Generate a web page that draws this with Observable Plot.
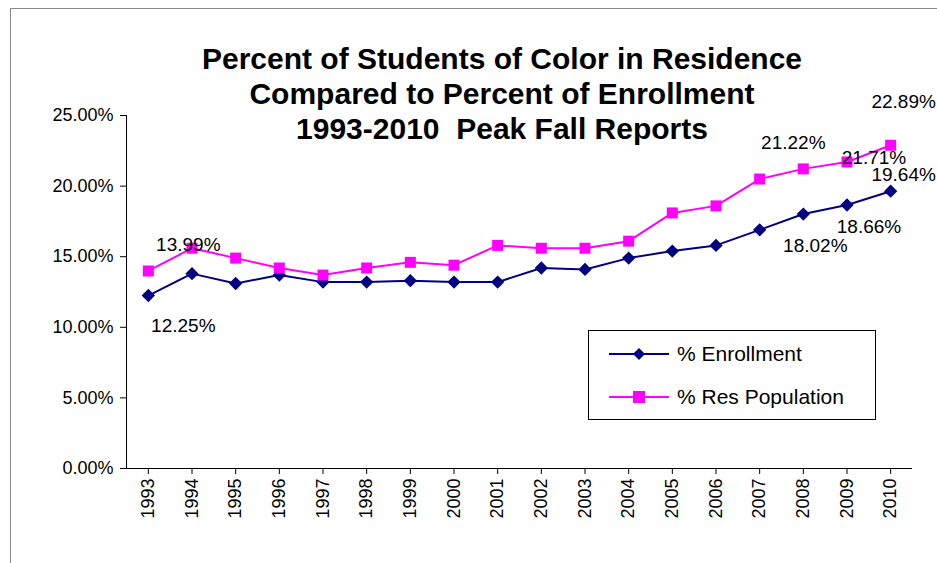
<!DOCTYPE html>
<html><head><meta charset="utf-8">
<script src="https://cdn.jsdelivr.net/npm/d3@7"></script>
<script src="https://cdn.jsdelivr.net/npm/@observablehq/plot@0.6"></script>
<style>
body{margin:0;background:#fff;font-family:"Liberation Sans",Arial,sans-serif;}
#wrap{position:relative;width:937px;height:563px;overflow:hidden}
#frame{position:absolute;left:10px;top:8px;width:940px;height:600px;border:1px solid #888;}
#title{position:absolute;left:152px;width:700px;top:41px;text-align:center;font-weight:bold;font-size:30px;line-height:35px;}
#legend{position:absolute;left:588px;top:330px;width:286px;height:88px;border:1px solid #000;background:#fff;font-size:21px;}
#legend div{position:absolute;left:20px;display:flex;align-items:center;}
#legend svg{margin-right:8px}
</style></head><body>
<div id="wrap"><div id="frame"></div><div id="chart"></div>
<div id="title">Percent of Students of Color in Residence<br>Compared to Percent of Enrollment<br>1993-2010&nbsp; Peak Fall Reports</div>
<div id="legend">
<div style="top:11px"><svg width="60" height="14"><line x1="0" y1="7" x2="60" y2="7" stroke="#000080" stroke-width="2"/><path d="M30,1 L36,7 L30,13 L24,7Z" fill="#000080"/></svg>% Enrollment</div>
<div style="top:54px"><svg width="60" height="14"><line x1="0" y1="7" x2="60" y2="7" stroke="#ff00ff" stroke-width="2"/><rect x="24" y="1" width="12" height="12" fill="#ff00ff"/></svg>% Res Population</div>
</div></div>
<script>
const years=["1993","1994","1995","1996","1997","1998","1999","2000","2001","2002","2003","2004","2005","2006","2007","2008","2009","2010"];
const enrollment=[12.25,13.8,13.1,13.7,13.2,13.2,13.3,13.2,13.2,14.2,14.1,14.9,15.4,15.8,16.9,18.02,18.66,19.64];
const resPop=[13.99,15.6,14.9,14.2,13.7,14.2,14.6,14.4,15.8,15.6,15.6,16.1,18.1,18.6,20.5,21.22,21.71,22.89];
const yTicks=[0,5,10,15,20,25];
const enrLabels=[["1993",12.25,"e93"],["2008",18.02,"e08"],["2009",18.66,"e09"],["2010",19.64,"e10"]];
const resLabels=[["1993",13.99,"r93"],["2008",21.22,"r08"],["2009",21.71,"r09"],["2010",22.89,"r10"]];
const enr=years.map((y,i)=>({year:y,v:enrollment[i]}));
const res=years.map((y,i)=>({year:y,v:resPop[i]}));
const off={e93:[35,30],e08:[12,32],e09:[22,22],e10:[13,-16],r93:[40,-26],r08:[-10,-26],r09:[27,-4],r10:[13,-43]};
const labs=[...enrLabels,...resLabels].map(([year,v,p])=>({year,v,dx:off[p][0],dy:off[p][1]}));
const fmt=d=>d.toFixed(2)+"%";
const chart=Plot.plot({
 width:937,height:563,marginLeft:126,marginRight:25,marginTop:115,marginBottom:95,
 style:{fontFamily:"Liberation Sans, Arial, sans-serif",fontSize:"18px",color:"#000",background:"transparent"},
 x:{type:"band",domain:years,padding:0,round:false,label:null,tickRotate:-90,tickSize:6,tickPadding:4},
 y:{domain:[0,25],ticks:yTicks,tickFormat:d=>d.toFixed(2)+"%",label:null,tickSize:6,tickPadding:7},
 marks:[
  Plot.ruleY([0]),
  Plot.ruleX([years[0]],{dx:-21.8,stroke:"#000"}),
  Plot.line(enr,{x:"year",y:"v",stroke:"#000080",strokeWidth:2}),
  Plot.line(res,{x:"year",y:"v",stroke:"#ff00ff",strokeWidth:2}),
  Plot.dot(enr,{x:"year",y:"v",symbol:"diamond2",r:6,fill:"#000080"}),
  Plot.dot(res,{x:"year",y:"v",symbol:"square2",r:7,fill:"#ff00ff"}),
  ...labs.map(l=>Plot.text([l],{x:"year",y:"v",text:d=>fmt(d.v),dx:l.dx,dy:l.dy,fontSize:19}))
 ]
});
document.getElementById("chart").appendChild(chart);
</script></body></html>
